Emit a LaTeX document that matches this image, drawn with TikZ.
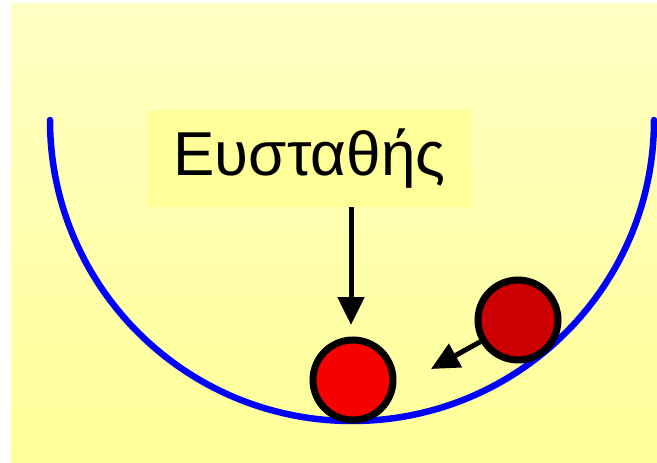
\documentclass[tikz,border=0pt]{standalone}
\usepackage{fontspec}
\setmainfont{Liberation Sans}
\usetikzlibrary{arrows.meta}
\definecolor{bgtop}{HTML}{FFFFC4}
\definecolor{bgbot}{HTML}{FFFF99}
\definecolor{labelbg}{HTML}{FFFF99}
\definecolor{bowlblue}{HTML}{0000FF}
\definecolor{ballred}{HTML}{F80000}
\definecolor{balldark}{HTML}{CC0000}
\tikzset{
  ball/.style={circle, draw=black, line width=7pt, minimum size=80pt, inner sep=0pt},
  pointer/.style={line width=5pt, -{Triangle[length=28pt,width=26pt]}},
}
\begin{document}
\begin{tikzpicture}[x=1pt,y=-1pt]
\useasboundingbox (0,0) rectangle (657,463);
\shade[top color=bgtop, bottom color=bgbot] (11,3) rectangle (657,463);
\node[fill=labelbg, minimum width=323pt, minimum height=97pt, inner sep=0pt, font=\fontsize{62}{64}\selectfont] (lbl) at (309.5,158.5) {Ευσταθής};
\coordinate (L) at (50,120);
\draw[bowlblue, line width=6.5pt, line cap=round] (L) arc[start angle=180, end angle=360, x radius=302, y radius=-301];
\node[ball, fill=ballred] (b1) at (353,380) {};
\node[ball, fill=balldark] (b2) at (518,320) {};
\coordinate (t1) at (351,325);
\coordinate (t2) at (431,369);
\draw[pointer] (lbl.south -| t1) -- (t1);
\draw[pointer] (b2.210) -- (t2);
\end{tikzpicture}
\end{document}
